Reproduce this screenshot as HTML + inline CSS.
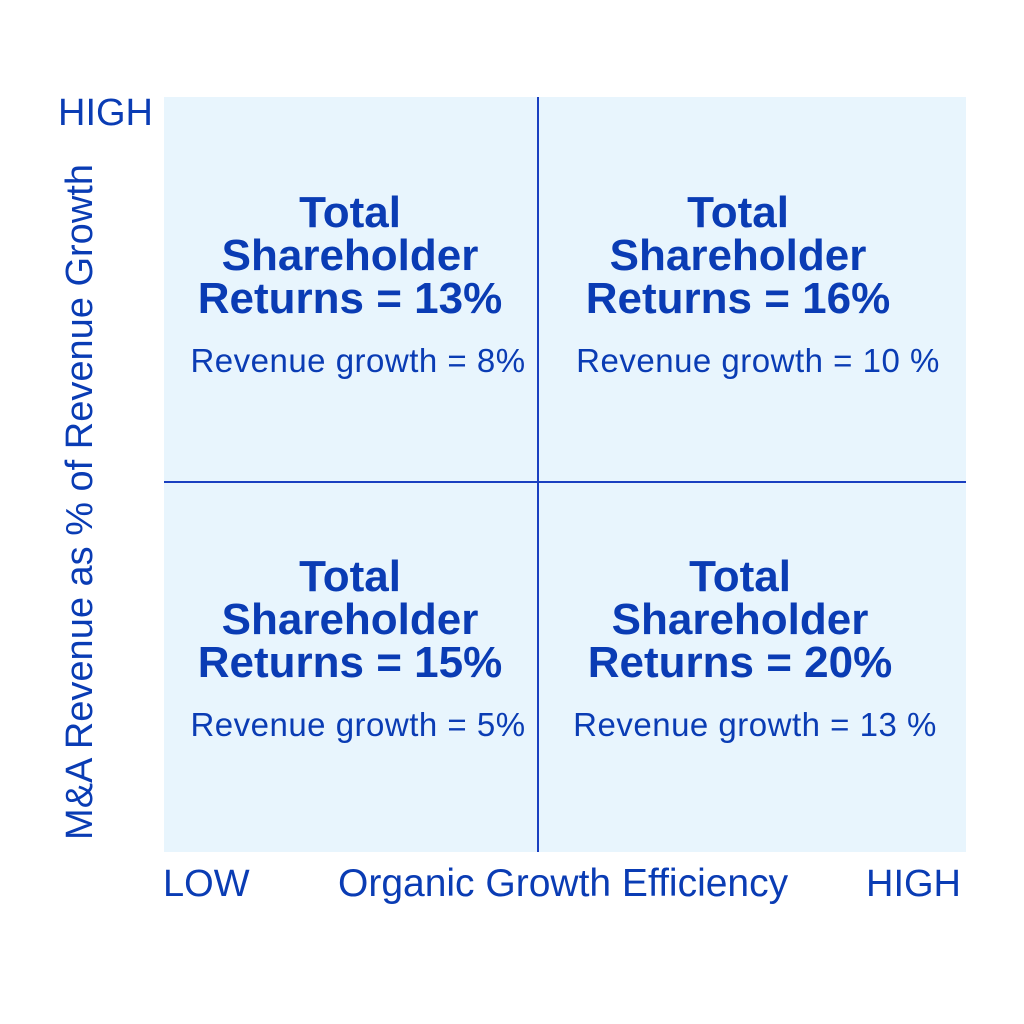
<!DOCTYPE html>
<html><head><style>
body{margin:0;width:1024px;height:1024px;background:#fff;position:relative;overflow:hidden;font-family:"Liberation Sans",sans-serif;color:#0a3cb4}
.box{position:absolute;left:164px;top:97px;width:802px;height:755px;background:#e8f5fd}
.vl{position:absolute;left:537px;top:97px;width:2px;height:755px;background:#1a3fc0}
.hl{position:absolute;left:164px;top:481px;width:802px;height:2px;background:#1a3fc0}
.q{position:absolute;width:420px;text-align:center}
.t{font-weight:bold;font-size:44px;line-height:43px}
.s{font-size:33px;margin-top:22px;white-space:nowrap;letter-spacing:0.5px}
.lab{position:absolute;font-size:38px;line-height:40px;white-space:nowrap}
</style></head><body>
<div class="box"></div><div class="vl"></div><div class="hl"></div>
<div class="q" style="left:140px;top:191px"><div class="t">Total<br>Shareholder<br>Returns = 13%</div><div class="s" style="margin-left:16px">Revenue growth = 8%</div></div>
<div class="q" style="left:528px;top:191px"><div class="t">Total<br>Shareholder<br>Returns = 16%</div><div class="s" style="margin-left:40px">Revenue growth = 10 %</div></div>
<div class="q" style="left:140px;top:555px"><div class="t">Total<br>Shareholder<br>Returns = 15%</div><div class="s" style="margin-left:16px">Revenue growth = 5%</div></div>
<div class="q" style="left:530px;top:555px"><div class="t">Total<br>Shareholder<br>Returns = 20%</div><div class="s" style="margin-left:30px">Revenue growth = 13 %</div></div>
<div class="lab" style="left:58px;top:93px">HIGH</div>
<div class="lab" style="left:163px;top:864px">LOW</div>
<div class="lab" style="left:338px;top:864px;font-size:39px">Organic Growth Efficiency</div>
<div class="lab" style="left:866px;top:864px">HIGH</div>
<div class="lab" style="left:80px;top:502px;font-size:38px;transform:translate(-50%,-50%) rotate(-90deg)">M&amp;A Revenue as % of Revenue Growth</div>
</body></html>
